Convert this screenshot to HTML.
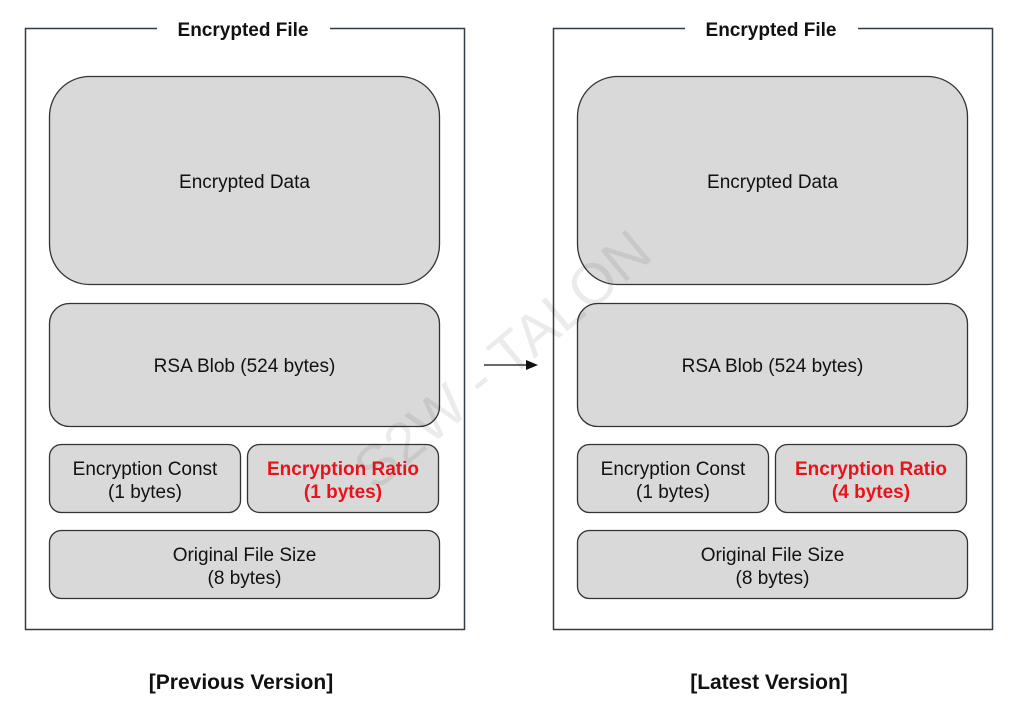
<!DOCTYPE html>
<html><head><meta charset="utf-8"><style>
html,body{margin:0;padding:0;background:#fff;}
svg{display:block;}
text{font-family:"Liberation Sans",Arial,sans-serif;}
</style></head><body>
<svg width="1024" height="723" viewBox="0 0 1024 723" xmlns="http://www.w3.org/2000/svg">
<defs>
<g id="frame">
  <path d="M157 28.5 H25.5 V629.5 H464.5 V28.5 H330" fill="none" stroke="#2d3e48" stroke-width="1.5"/>
  <text x="243" y="36" font-size="19" font-weight="bold" text-anchor="middle" fill="#111">Encrypted File</text>
  <rect x="49.5" y="76.5" width="390" height="208" rx="40" fill="#d9d9d9" stroke="#333" stroke-width="1.3"/>
  <text x="244.5" y="188" font-size="19" text-anchor="middle" fill="#111">Encrypted Data</text>
  <rect x="49.5" y="303.5" width="390" height="123" rx="20" fill="#d9d9d9" stroke="#333" stroke-width="1.3"/>
  <text x="244.5" y="372" font-size="19" text-anchor="middle" fill="#111">RSA Blob (524 bytes)</text>
  <rect x="49.5" y="444.5" width="191" height="68" rx="12" fill="#d9d9d9" stroke="#333" stroke-width="1.3"/>
  <text x="145" y="475" font-size="19" text-anchor="middle" fill="#111">Encryption Const</text>
  <text x="145" y="498" font-size="19" text-anchor="middle" fill="#111">(1 bytes)</text>
  <rect x="247.5" y="444.5" width="191" height="68" rx="12" fill="#d9d9d9" stroke="#333" stroke-width="1.3"/>
  <text x="343" y="475" font-size="19" font-weight="bold" text-anchor="middle" fill="#e8141b">Encryption Ratio</text>
  <rect x="49.5" y="530.5" width="390" height="68" rx="12" fill="#d9d9d9" stroke="#333" stroke-width="1.3"/>
  <text x="244.5" y="561" font-size="19" text-anchor="middle" fill="#111">Original File Size</text>
  <text x="244.5" y="584" font-size="19" text-anchor="middle" fill="#111">(8 bytes)</text>
</g>
</defs>
<use href="#frame"/>
<use href="#frame" x="528"/>
<text x="343" y="498" font-size="19" font-weight="bold" text-anchor="middle" fill="#e8141b">(1 bytes)</text>
<text x="871" y="498" font-size="19" font-weight="bold" text-anchor="middle" fill="#e8141b">(4 bytes)</text>
<line x1="484" y1="365" x2="526" y2="365" stroke="#111" stroke-width="1.3"/>
<polygon points="526,360 538,365 526,370" fill="#111"/>
<text x="241" y="689" font-size="21" font-weight="bold" text-anchor="middle" fill="#111">[Previous Version]</text>
<text x="769" y="689" font-size="21" font-weight="bold" text-anchor="middle" fill="#111">[Latest Version]</text>
<text x="0" y="0" font-family="'Liberation Serif','DejaVu Serif',serif" font-size="58" fill="#000" fill-opacity="0.08" text-anchor="middle" transform="translate(515,375) rotate(-40)">S2W - TALON</text>
</svg>
</body></html>
